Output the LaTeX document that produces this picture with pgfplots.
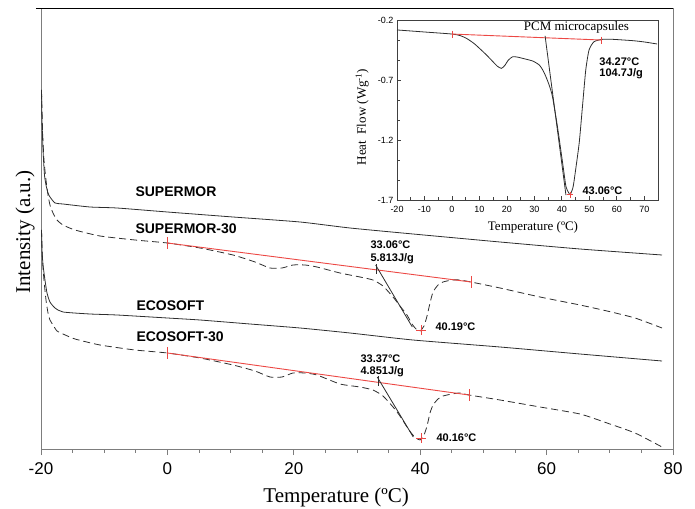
\documentclass[border=0pt]{standalone}
\usepackage{pgfplots}
\pgfplotsset{compat=1.18}
\usepackage{fontspec}
\setmainfont{Liberation Serif}
\newfontfamily\arial{Liberation Sans}
\definecolor{curve}{RGB}{45,45,45}
\definecolor{redline}{RGB}{236,72,68}
\definecolor{axgray}{RGB}{125,125,125}
\begin{document}
\begin{tikzpicture}
\begin{axis}[
  at={(0,0)}, anchor=south west,
  scale only axis, width=632pt, height=441pt,
  xmin=-20, xmax=80, ymin=0, ymax=441,
  xtick={-20,0,...,80}, minor x tick num=3,
  ytick=\empty,
  tick pos=left, tick align=outside,
  major tick length=6pt, minor tick length=3.5pt,
  axis line style={axgray, line width=0.9pt},
  every tick/.style={axgray, line width=0.9pt},
  ticklabel style={font=\arial\fontsize{17}{17}\selectfont},
  xticklabel style={yshift=-4pt},
  /pgf/number format/assume math mode=true,
  xlabel={Temperature (ºC)},
  xlabel style={font=\fontsize{21}{21}\selectfont, at={(axis description cs:0.467,-0.1224)}, anchor=base},
  ylabel={Intensity (a.u.)},
  ylabel style={font=\fontsize{21}{21}\selectfont, at={(axis description cs:-0.0174,0.492)}, anchor=base},
  clip=false,
  every node/.style={inner sep=0pt},
]
\draw[black, line width=0.9pt] ([xshift=-5pt]rel axis cs:0,1) -- (rel axis cs:1,1);
% SUPERMOR
\addplot[curve, line width=0.8pt, smooth, tension=0.35] coordinates {
(-19.92,359) (-19.84,329) (-19.68,299) (-19.45,274) (-19.21,264) (-18.89,256) (-18.58,252) (-17.78,246) (-16.52,245) (-12.25,242) (-7.97,241) (0,237) (10.38,232) (20.98,227) (28.89,221) (38.86,215) (52.63,207) (65.28,200) (78.26,194)};
% SUPERMOR-30
\addplot[curve, line width=0.8pt, dash pattern=on 7pt off 4pt, smooth, tension=0.35] coordinates {
(-19.92,359) (-19.76,319) (-19.53,289) (-19.21,269) (-18.89,254) (-18.58,244) (-18.10,236) (-17.47,229) (-16.52,224) (-14.62,219) (-10.66,213) (-5.13,209) (0,206) (5.16,201) (10.38,194) (13.86,187) (16.23,181) (18.13,181) (19.87,184) (21.77,184) (23.67,182) (27.31,176) (30.47,172) (32.53,169) (34.11,163) (35.70,152) (36.80,143) (37.91,134) (38.70,125) (39.34,120) (39.97,118) (40.60,123) (41.08,133) (41.55,146) (42.03,157) (42.82,164) (43.61,167) (45.03,169) (46.30,169) (48.04,167) (52.63,161) (58.96,152) (65.28,144) (69.56,138) (73.99,131) (78.26,121)};
% ECOSOFT
\addplot[curve, line width=0.8pt, smooth, tension=0.35] coordinates {
(-19.92,219) (-19.84,199) (-19.68,184) (-19.37,169) (-19.05,156) (-18.58,147) (-17.78,141) (-16.52,137) (-12.25,135) (-7.97,134) (0,131) (5.16,129) (13.07,125) (20.98,121) (28.89,116) (38.86,109) (52.63,102) (65.28,95) (78.26,88)};
% ECOSOFT-30
\addplot[curve, line width=0.8pt, dash pattern=on 7pt off 4pt, smooth, tension=0.35] coordinates {
(-19.92,219) (-19.76,189) (-19.53,169) (-19.21,149) (-18.89,136) (-18.58,129) (-18.10,124) (-17.47,118) (-16.52,115) (-14.62,110) (-10.66,104) (-5.13,99) (0,96) (5.16,91) (10.38,84) (13.86,78) (16.23,72) (18.13,72) (19.87,76) (21.77,76) (23.67,74) (27.31,65) (30.47,62) (32.53,59) (34.11,53) (35.70,42) (36.80,33) (37.91,22) (38.70,15) (39.34,11) (39.97,9) (40.60,14) (41.08,23) (41.55,36) (42.03,44) (42.82,50) (43.61,53) (45.03,55) (46.30,56) (47.72,54) (52.63,49) (58.96,42) (65.28,35) (69.56,26) (73.99,16) (78.26,2)};
% baselines and markers
\addplot[redline, line width=0.9pt, mark=|, mark size=6pt, mark options={solid}] coordinates {(0,206) (48.04,167)};
\addplot[redline, line width=0.9pt, mark=|, mark size=6pt, mark options={solid}] coordinates {(0,96) (47.72,54)};
\addplot[redline, line width=0.9pt, only marks, mark=+, mark size=5pt] coordinates {(40.19,119) (40.16,11)};
\addplot[curve, line width=0.8pt] coordinates {(32.95,184) (38.75,122)};
\addplot[curve, line width=0.8pt] coordinates {(33.2,72) (38.9,12)};
\addplot[curve, line width=0.8pt, only marks, mark=|, mark size=5pt] coordinates {(33.06,180) (33.37,68)};
% labels
\begin{scope}[font=\arial\bfseries\fontsize{14}{14}\selectfont]
\node[anchor=west] at (axis cs:-5.6,257) {SUPERMOR};
\node[anchor=west] at (axis cs:-5.6,220) {SUPERMOR-30};
\node[anchor=west] at (axis cs:-5.44,143) {ECOSOFT};
\node[anchor=west] at (axis cs:-5.44,112) {ECOSOFT-30};
\end{scope}
\begin{scope}[font=\arial\bfseries\fontsize{11}{11}\selectfont]
\node[anchor=west] at (axis cs:31.58,204) {33.06°C};
\node[anchor=west] at (axis cs:31.58,190) {5.813J/g};
\node[anchor=west] at (axis cs:41.87,122) {40.19°C};
\node[anchor=west] at (axis cs:30.0,90) {33.37°C};
\node[anchor=west] at (axis cs:30.0,77) {4.851J/g};
\node[anchor=west] at (axis cs:42.03,11) {40.16°C};
\end{scope}
\end{axis}
% inset
\begin{axis}[
  at={(356pt,249pt)}, anchor=south west,
  scale only axis, width=261pt, height=180pt,
  xmin=-20, xmax=75, ymin=-1.7, ymax=-0.2,
  xtick={-20,-10,...,70}, minor x tick num=1,
  ytick={-1.7,-1.2,-0.7,-0.2}, minor y tick num=2,
  yticklabels={-1.7,-1.2,-0.7,-0.2},
  tick pos=left, tick align=inside,
  major tick length=4pt, minor tick length=2.5pt,
  axis line style={black!75, line width=0.8pt},
  every tick/.style={black!75, line width=0.7pt},
  ticklabel style={font=\arial\fontsize{9}{9}\selectfont},
  xticklabel style={yshift=-3pt},
  /pgf/number format/assume math mode=true,
  xlabel={Temperature (ºC)},
  xlabel style={font=\fontsize{13}{13}\selectfont, at={(axis description cs:0.521,-0.1667)}, anchor=base},
  ylabel={Heat\ \ Flow (Wg\textsuperscript{-1})},
  ylabel style={font=\fontsize{13}{13}\selectfont, at={(axis description cs:-0.119,0.461)}, anchor=base},
  clip=false,
  every node/.style={inner sep=0pt},
]
\addplot[curve, line width=0.8pt, smooth, tension=0.35] coordinates {
(-20,-0.283) (-10,-0.300) (0,-0.317) (3,-0.33) (5.3,-0.353) (8,-0.395) (10,-0.436) (12.5,-0.49) (14.9,-0.547) (16.5,-0.585) (18,-0.603) (19.2,-0.58) (20.5,-0.535) (22.1,-0.506) (24,-0.51) (25.8,-0.52) (29.4,-0.542) (31.8,-0.575) (33,-0.615) (34.2,-0.672) (35.5,-0.75) (36.6,-0.84) (38.4,-1.089) (40.3,-1.394) (41.5,-1.589) (42.5,-1.64) (43.06,-1.655) (44,-1.6) (44.5,-1.533) (46.3,-1.228) (47.5,-0.922) (48.7,-0.617) (49.9,-0.45) (51.7,-0.381) (54.8,-0.361) (58.4,-0.361) (65.7,-0.372) (70,-0.383) (74.7,-0.4)};
\addplot[redline, line width=0.9pt, mark=|, mark size=3.5pt] coordinates {(0,-0.317) (54.5,-0.367)};
\addplot[redline, line width=0.9pt, only marks, mark=+, mark size=3pt] coordinates {(43.06,-1.655)};
\addplot[curve, line width=0.8pt] coordinates {(33.9,-0.333) (41.5,-1.66)};
\node[anchor=base, font=\fontsize{13}{13}\selectfont] at (axis cs:45.3,-0.289) {PCM microcapsules};
\begin{scope}[font=\arial\bfseries\fontsize{11}{11}\selectfont]
\node[anchor=west] at (axis cs:52.4,-0.55) {34.27°C};
\node[anchor=west] at (axis cs:52.4,-0.65) {104.7J/g};
\node[anchor=west] at (axis cs:46.25,-1.625) {43.06°C};
\end{scope}
\end{axis}
\draw[axgray, line width=0.9pt] (632pt,0) -- (632pt,441pt);
\pgfresetboundingbox
\path[use as bounding box] (-41pt,-59pt) rectangle (654pt,449pt);
\end{tikzpicture}
\end{document}
